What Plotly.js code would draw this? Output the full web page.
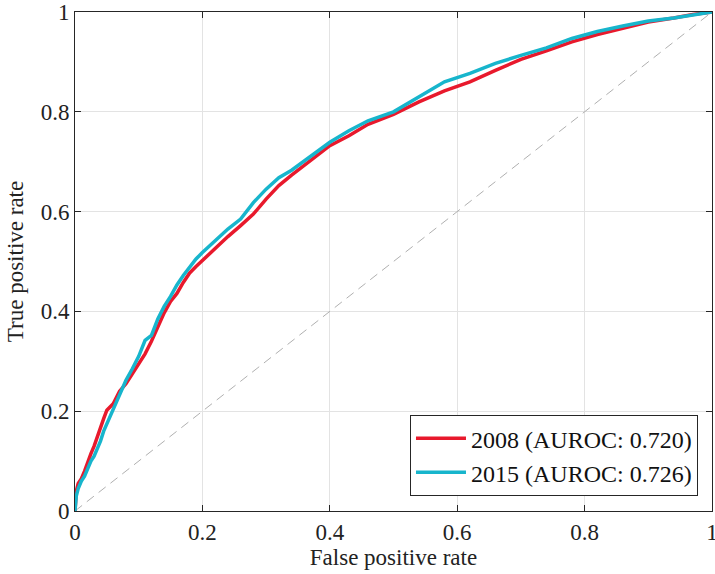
<!DOCTYPE html>
<html>
<head>
<meta charset="utf-8">
<script src="https://cdn.plot.ly/plotly-3.0.1.min.js"></script>
<style>html,body{margin:0;padding:0;background:#fff;}#chart{width:715px;height:574px;}</style>
</head>
<body>
<div id="chart"></div>
<script>
// False positive rate sample points
const fpr = [0, 0.002, 0.005, 0.01, 0.015, 0.02, 0.025, 0.03, 0.035, 0.04, 0.045, 0.05, 0.06, 0.07, 0.08, 0.09, 0.1, 0.11, 0.12, 0.13, 0.14, 0.15, 0.16, 0.17, 0.18, 0.19, 0.2, 0.22, 0.24, 0.26, 0.28, 0.3, 0.32, 0.34, 0.36, 0.38, 0.4, 0.43, 0.46, 0.5, 0.54, 0.58, 0.62, 0.66, 0.7, 0.74, 0.78, 0.82, 0.86, 0.9, 0.94, 0.97, 1];
// True positive rate, 2008
const tpr2008 = [0, 0.04, 0.055, 0.065, 0.08, 0.1, 0.115, 0.13, 0.15, 0.165, 0.185, 0.202, 0.215, 0.24, 0.255, 0.275, 0.295, 0.315, 0.34, 0.37, 0.397, 0.42, 0.436, 0.458, 0.477, 0.49, 0.502, 0.527, 0.55, 0.572, 0.595, 0.625, 0.652, 0.673, 0.692, 0.713, 0.732, 0.752, 0.775, 0.795, 0.82, 0.842, 0.86, 0.883, 0.905, 0.922, 0.94, 0.955, 0.967, 0.98, 0.988, 0.995, 1];
// True positive rate, 2015
const tpr2015 = [0, 0.03, 0.045, 0.06, 0.07, 0.085, 0.1, 0.11, 0.125, 0.14, 0.16, 0.175, 0.205, 0.235, 0.262, 0.285, 0.31, 0.342, 0.352, 0.385, 0.41, 0.43, 0.453, 0.472, 0.488, 0.505, 0.518, 0.542, 0.565, 0.585, 0.618, 0.645, 0.668, 0.683, 0.702, 0.722, 0.739, 0.762, 0.782, 0.8, 0.829, 0.86, 0.877, 0.897, 0.913, 0.928, 0.947, 0.961, 0.972, 0.982, 0.988, 0.994, 1];
const chanceLine = [0, 1];
const seriesNames = ['2008 (AUROC: 0.720)', '2015 (AUROC: 0.726)'];
const tickVals = [0, 0.2, 0.4, 0.6, 0.8, 1];
const tickText = ['0', '0.2', '0.4', '0.6', '0.8', '1'];

const font = 'Liberation Serif, DejaVu Serif, serif';

const traces = [
  {x: chanceLine, y: chanceLine, mode: 'lines', showlegend: false, hoverinfo: 'skip',
   line: {color: '#b0b0b0', width: 1, dash: '9px,6px'}},
  {x: fpr, y: tpr2008, mode: 'lines', name: seriesNames[0],
   line: {color: '#e8192c', width: 3.5}},
  {x: fpr, y: tpr2015, mode: 'lines', name: seriesNames[1],
   line: {color: '#17b5cc', width: 3.5}}
];

const axisCommon = {
  range: [0, 1], tickvals: tickVals, ticktext: tickText,
  showgrid: true, gridcolor: '#e3e3e3', gridwidth: 1,
  zeroline: false, showline: true, linecolor: '#262626', linewidth: 1,
  mirror: 'ticks', ticks: 'inside', ticklen: 6, tickcolor: '#262626',
  tickfont: {family: font, size: 23, color: '#222'},
  ticklabeloverflow: 'allow'
};

const layout = {
  width: 715, height: 574,
  margin: {l: 75, r: 3, t: 12, b: 63},
  paper_bgcolor: '#fff', plot_bgcolor: '#fff',
  font: {family: font, color: '#222'},
  xaxis: Object.assign({}, axisCommon, {
    title: {text: 'False positive rate', font: {family: font, size: 23, color: '#222'}, standoff: 4}
  }),
  yaxis: Object.assign({}, axisCommon, {
    title: {text: 'True positive rate', font: {family: font, size: 23, color: '#222'}, standoff: 10}
  }),
  legend: {
    x: 0.978, y: 0.03, xanchor: 'right', yanchor: 'bottom',
    bgcolor: '#fff', bordercolor: '#262626', borderwidth: 1,
    font: {family: font, size: 24, color: '#111'},
    tracegroupgap: 0, itemwidth: 50
  },
  showlegend: true
};

Plotly.newPlot('chart', traces, layout, {staticPlot: true, displayModeBar: false});
</script>
</body>
</html>
